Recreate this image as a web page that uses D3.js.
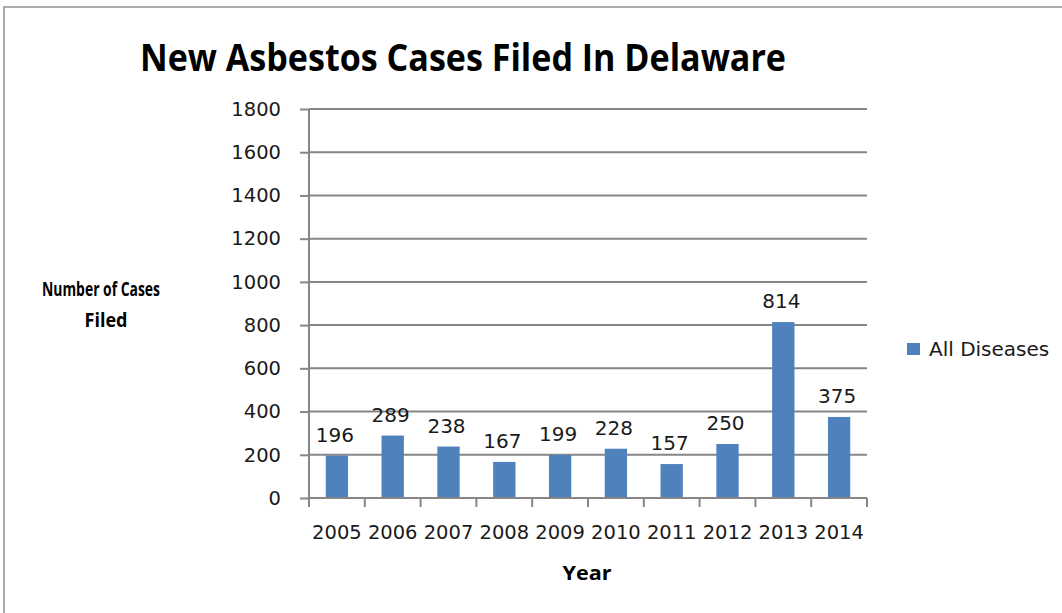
<html>
  <head>
    <title>New Asbestos Cases Filed In Delaware</title>
    <style>
      body { margin: 0; background: #fff; }
    </style>
  </head>
  <body>
    <script src="https://d3js.org/d3.v7.min.js"></script>
    <script>
      (function() {
        // Chart data
        var years = ['2005', '2006', '2007', '2008', '2009', '2010', '2011', '2012', '2013', '2014'];
        var cases = [196, 289, 238, 167, 199, 228, 157, 250, 814, 375];
        var yTicks = [0, 200, 400, 600, 800, 1000, 1200, 1400, 1600, 1800];
        var seriesName = 'All Diseases';

        var WIDTH = 1062, HEIGHT = 613;
        var LEFT = 309, RIGHT = 867, TOP = 109, BOTTOM = 498;

        var colors = {
          BAR: '#4F81BD',
          GRID: '#868686',
          TEXT: '#1a1a1a',
          FRAME: '#ababab'
        };

        var svg = d3.select('body')
          .append('svg')
          .attr('width', WIDTH)
          .attr('height', HEIGHT);

        // Outer frame (only top and left edges show)
        svg.append('path')
          .attr('d', 'M4,' + HEIGHT + 'V7H' + WIDTH)
          .attr('fill', 'none')
          .attr('stroke', colors.FRAME)
          .attr('stroke-width', 2);

        var x = d3.scaleBand()
          .domain(years)
          .range([LEFT, RIGHT])
          .paddingInner(0.6)
          .paddingOuter(0.3);

        var y = d3.scaleLinear()
          .domain([0, 1800])
          .range([BOTTOM, TOP]);

        // Gridlines
        svg.append('g')
          .selectAll('line')
          .data(yTicks.slice(1))
          .enter().append('line')
          .attr('x1', LEFT)
          .attr('x2', RIGHT)
          .attr('y1', function(d) { return y(d); })
          .attr('y2', function(d) { return y(d); })
          .attr('stroke', colors.GRID)
          .attr('stroke-width', 2);

        // Bars
        svg.append('g')
          .selectAll('rect')
          .data(cases)
          .enter().append('rect')
          .attr('x', function(d, i) { return x(years[i]); })
          .attr('y', function(d) { return y(d); })
          .attr('width', x.bandwidth())
          .attr('height', function(d) { return BOTTOM - y(d); })
          .attr('fill', colors.BAR);

        // Y axis
        var yAxis = svg.append('g')
          .attr('transform', 'translate(' + LEFT + ',0)')
          .call(d3.axisLeft(y).tickValues(yTicks).tickFormat(d3.format('d')).tickSize(9).tickPadding(19));
        yAxis.selectAll('line, path').attr('stroke', colors.GRID).attr('stroke-width', 2);
        yAxis.select('.domain').attr('d', 'M0,' + BOTTOM + 'V' + TOP);
        yAxis.selectAll('text')
          .attr('font-family', 'DejaVu Sans')
          .attr('font-size', '19.5px')
          .attr('fill', colors.TEXT);

        // X axis: ticks at category boundaries
        var xg = svg.append('g');
        xg.append('line')
          .attr('x1', LEFT).attr('x2', RIGHT)
          .attr('y1', BOTTOM).attr('y2', BOTTOM)
          .attr('stroke', colors.GRID).attr('stroke-width', 2);
        xg.selectAll('.xtick')
          .data(d3.range(years.length + 1))
          .enter().append('line')
          .attr('class', 'xtick')
          .attr('x1', function(i) { return LEFT + x.step() * i; })
          .attr('x2', function(i) { return LEFT + x.step() * i; })
          .attr('y1', BOTTOM)
          .attr('y2', BOTTOM + 9)
          .attr('stroke', colors.GRID).attr('stroke-width', 2);
        xg.selectAll('.xlabel')
          .data(years)
          .enter().append('text')
          .attr('class', 'xlabel')
          .attr('x', function(d) { return x(d) + x.bandwidth() / 2; })
          .attr('y', 539)
          .attr('text-anchor', 'middle')
          .attr('font-family', 'DejaVu Sans')
          .attr('font-size', '19.5px')
          .attr('fill', colors.TEXT)
          .text(function(d) { return d; });

        // Data labels
        svg.append('g')
          .selectAll('text')
          .data(cases)
          .enter().append('text')
          .attr('x', function(d, i) { return x(years[i]) + x.bandwidth() / 2 - 2; })
          .attr('y', function(d) { return y(d) - 14; })
          .attr('text-anchor', 'middle')
          .attr('font-family', 'DejaVu Sans')
          .attr('font-size', '20px')
          .attr('fill', colors.TEXT)
          .text(function(d) { return d; });

        // Title
        svg.append('text')
          .text('New Asbestos Cases Filed In Delaware')
          .attr('x', 140)
          .attr('y', 71)
          .attr('textLength', 646)
          .attr('lengthAdjust', 'spacingAndGlyphs')
          .attr('font-family', 'Open Sans')
          .attr('font-weight', 'bold')
          .attr('font-size', '37px')
          .attr('fill', '#000');

        // Y axis title
        var yTitle = svg.append('text')
          .attr('font-family', 'Open Sans')
          .attr('font-weight', 'bold')
          .attr('font-size', '19px')
          .attr('fill', '#000')
          .attr('text-anchor', 'middle');
        yTitle.append('tspan').attr('x', 101).attr('y', 296)
          .attr('textLength', 118).attr('lengthAdjust', 'spacingAndGlyphs')
          .text('Number of Cases');
        yTitle.append('tspan').attr('x', 106).attr('y', 327)
          .attr('textLength', 43).attr('lengthAdjust', 'spacingAndGlyphs')
          .text('Filed');

        // X axis title
        svg.append('text')
          .text('Year')
          .attr('x', 587)
          .attr('y', 580)
          .attr('text-anchor', 'middle')
          .attr('textLength', 49)
          .attr('lengthAdjust', 'spacingAndGlyphs')
          .attr('font-family', 'Open Sans')
          .attr('font-weight', 'bold')
          .attr('font-size', '20px')
          .attr('fill', '#000');

        // Legend
        var legend = svg.append('g').attr('transform', 'translate(907,343)');
        legend.append('rect')
          .attr('width', 13).attr('height', 12)
          .attr('fill', colors.BAR);
        legend.append('text')
          .text(seriesName)
          .attr('x', 22)
          .attr('y', 13)
          .attr('font-family', 'DejaVu Sans')
          .attr('font-size', '20px')
          .attr('fill', colors.TEXT);
      })();
    </script>
  </body>
</html>
